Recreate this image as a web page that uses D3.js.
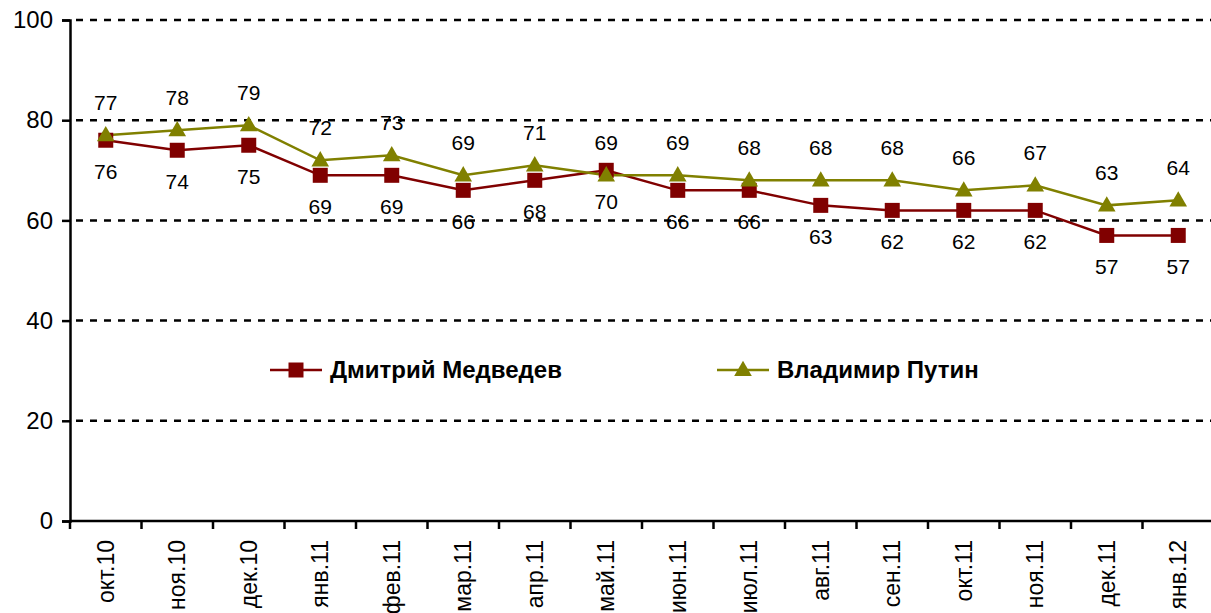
<!DOCTYPE html>
<html>
<head>
<meta charset="utf-8">
<script src="https://cdn.jsdelivr.net/npm/d3@7"></script>
<style>
  body { margin: 0; background: #fff; }
  text { font-family: "Liberation Sans", Arial, sans-serif; fill: #000; }
</style>
</head>
<body>
<svg id="chart" width="1211" height="613"></svg>
<script>
const months = ["окт.10", "ноя.10", "дек.10", "янв.11", "фев.11", "мар.11", "апр.11", "май.11",
    "июн.11", "июл.11", "авг.11", "сен.11", "окт.11", "ноя.11", "дек.11", "янв.12"];
const medvedev = [76, 74, 75, 69, 69, 66, 68, 70, 66, 66, 63, 62, 62, 62, 57, 57];
const putin = [77, 78, 79, 72, 73, 69, 71, 69, 69, 68, 68, 68, 66, 67, 63, 64];
const yTicks = [0, 20, 40, 60, 80, 100];

const svg = d3.select('#chart')
const plotLeft = 70, plotTop = 20, plotBottom = 521, plotRight = 1214;

const x = d3.scaleBand().domain(months).range([plotLeft, plotRight]);
const y = d3.scaleLinear().domain([0, 100]).range([plotBottom, plotTop]);

// gridlines
svg.append("g").selectAll("line")
    .data(yTicks.filter(d => d > 0))
    .enter().append("line")
    .attr("x1", plotLeft + 6).attr("x2", 1211)
    .attr("y1", d => y(d)).attr("y2", d => y(d))
    .attr("stroke", "#000")
    .attr("stroke-width", 2.5)
    .attr("stroke-dasharray", "7,7");

// y axis
const yAxis = svg.append("g")
    .attr("transform", `translate(${plotLeft},0)`)
    .call(d3.axisLeft(y).tickValues(yTicks).tickSize(8).tickPadding(9));
yAxis.select(".domain").attr("stroke-width", 2.5);
yAxis.selectAll(".tick line").attr("stroke-width", 2.5);
yAxis.selectAll("text")
    .style("font-size", "24px")
    .style("font-family", "Liberation Sans, Arial, sans-serif");

// x axis
const xAxis = svg.append("g")
    .attr("transform", `translate(0,${plotBottom})`)
    .call(d3.axisBottom(x).tickSize(0).tickPadding(0));
xAxis.select(".domain").attr("stroke-width", 2.5).attr("d", `M${plotLeft},0H${plotRight}`);
xAxis.selectAll(".tick text")
    .style("font-size", "23px")
    .style("font-family", "Liberation Sans, Arial, sans-serif")
    .attr("text-anchor", "end")
    .attr("transform", "rotate(-90)")
    .attr("x", -19)
    .attr("y", 0)
    .attr("dy", "0.35em");
// boundary ticks
svg.append("g").selectAll("line")
    .data(months)
    .enter().append("line")
    .attr("x1", d => x(d)).attr("x2", d => x(d))
    .attr("y1", plotBottom).attr("y2", plotBottom + 8)
    .attr("stroke", "#000").attr("stroke-width", 2.5);

const cx = d => x(d) + x.bandwidth() / 2;
const line = d3.line().x((d, i) => cx(months[i])).y(d => y(d));

const series = [
    {name: "Дмитрий Медведев", values: medvedev, color: "#800000", shape: d3.symbolSquare, size: 225, labelDy: 31},
    {name: "Владимир Путин", values: putin, color: "#808000", shape: d3.symbolTriangle, size: 135, labelDy: -33}
];

series.forEach(s => {
    svg.append("path")
        .datum(s.values)
        .attr("d", line)
        .attr("fill", "none")
        .attr("stroke", s.color)
        .attr("stroke-width", 2.5);
});
series.forEach(s => {
    svg.append("g").selectAll("path")
        .data(s.values)
        .enter().append("path")
        .attr("d", d3.symbol().type(s.shape).size(s.size))
        .attr("transform", (d, i) => `translate(${cx(months[i])},${y(d) + (s.shape === d3.symbolTriangle ? 1 : 0)})`)
        .attr("fill", s.color);
    svg.append("g").selectAll("text")
        .data(s.values)
        .enter().append("text")
        .attr("x", (d, i) => cx(months[i]))
        .attr("y", d => y(d) + s.labelDy)
        .attr("dy", "0.35em")
        .attr("text-anchor", "middle")
        .style("font-size", "21px")
        .text(d => d);
});

// legend
const legendPos = [270, 717];
series.forEach((s, i) => {
    const g = svg.append("g").attr("transform", `translate(${legendPos[i]},370)`);
    g.append("line").attr("x1", 0).attr("x2", 52)
        .attr("stroke", s.color).attr("stroke-width", 2.5);
    g.append("path")
        .attr("d", d3.symbol().type(s.shape).size(s.size))
        .attr("transform", `translate(26,${s.shape === d3.symbolTriangle ? 1 : 0})`)
        .attr("fill", s.color);
    g.append("text")
        .attr("x", 60).attr("dy", "0.35em")
        .style("font-size", "24px").style("font-weight", "bold")
        .text(s.name);
});
</script>
</body>
</html>
